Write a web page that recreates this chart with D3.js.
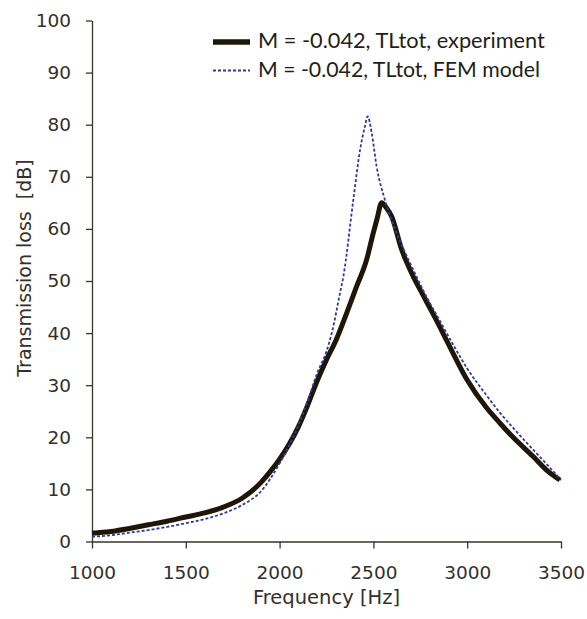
<!DOCTYPE html>
<html>
<head>
<meta charset="utf-8">
<script src="https://cdn.jsdelivr.net/npm/d3@7"></script>
<style>
  body { margin: 0; background: #fff; }
</style>
</head>
<body>
<svg width="587" height="619"></svg>
<script>
// experiment (thick black)
const freqExp = [1000, 1100, 1200, 1300, 1400, 1500, 1600, 1700, 1800, 1900, 1950, 2000, 2050, 2100, 2150, 2200, 2250, 2300, 2358, 2411, 2464, 2499, 2520, 2544, 2570, 2597, 2651, 2704, 2775, 2837, 2900, 3000, 3100, 3175, 3250, 3352, 3420, 3494];
const tlExp   = [1.6, 1.9, 2.5, 3.2, 3.9, 4.7, 5.5, 6.6, 8.3, 11.3, 13.4, 15.8, 18.6, 22.0, 26.2, 30.8, 34.9, 38.6, 43.9, 49.0, 54.1, 59.2, 62.0, 65.0, 64.0, 62.4, 56.0, 51.5, 46.6, 42.4, 37.9, 31.0, 25.8, 22.7, 19.8, 16.3, 13.8, 11.8];

// FEM model (blue dashed)
const freqFem = [1000, 1100, 1200, 1300, 1400, 1500, 1600, 1700, 1800, 1900, 2000, 2100, 2150, 2200, 2250, 2278, 2322, 2340, 2393, 2429, 2455, 2469, 2491, 2517, 2561, 2624, 2704, 2784, 2846, 2920, 3000, 3100, 3175, 3260, 3352, 3430, 3500];
const tlFem   = [0.9, 1.2, 1.7, 2.2, 2.8, 3.5, 4.3, 5.4, 7.0, 9.6, 15.0, 22.3, 27.0, 32.3, 36.5, 40.0, 47.7, 50.9, 65.6, 75.2, 79.7, 81.6, 78.4, 72.0, 65.6, 59.2, 52.8, 46.9, 42.9, 38.1, 33.2, 28.2, 24.7, 21.2, 17.6, 14.6, 11.8];

const xTicks = [1000, 1500, 2000, 2500, 3000, 3500];
const yTicks = [0, 10, 20, 30, 40, 50, 60, 70, 80, 90, 100];
const seriesNames = ["M = -0.042, TLtot, experiment", "M = -0.042, TLtot, FEM model"];

const svg = d3.select('svg');
const margin = { top: 20.5, right: 26, bottom: 77.5, left: 92 };
const width = +svg.attr('width');
const height = +svg.attr('height');
const innerWidth = width - margin.left - margin.right;
const innerHeight = height - margin.top - margin.bottom;

const axisColor = '#3b3428';
const textColor = '#333029';
const expColor = '#1f1608';
const femColor = '#2c3c99';

const xScale = d3.scaleLinear().domain([1000, 3500]).range([0, innerWidth]);
const yScale = d3.scaleLinear().domain([0, 100]).range([innerHeight, 0]);

const g = svg.append('g')
    .attr('transform', `translate(${margin.left},${margin.top})`);

// axes
const yAxis = g.append('g')
    .call(d3.axisLeft(yScale).tickValues(yTicks).tickSize(6).tickSizeOuter(0).tickPadding(15));
const xAxis = g.append('g')
    .attr('transform', `translate(0,${innerHeight})`)
    .call(d3.axisBottom(xScale).tickValues(xTicks).tickFormat(d3.format('d')).tickSize(7).tickSizeOuter(0).tickPadding(17));

[yAxis, xAxis].forEach(ax => {
    ax.select('.domain').attr('stroke', axisColor).attr('stroke-width', 1.3);
    ax.selectAll('.tick line').attr('stroke', axisColor).attr('stroke-width', 1.3);
    ax.selectAll('.tick text')
        .attr('fill', textColor)
        .style('font-family', '"DejaVu Sans", Verdana, sans-serif')
        .style('font-size', '18.5px');
});

// lines
const expData = freqExp.map((f, i) => ({ f, v: tlExp[i] }));
const femData = freqFem.map((f, i) => ({ f, v: tlFem[i] }));

const line = d3.line()
    .x(d => xScale(d.f))
    .y(d => yScale(d.v))
    .curve(d3.curveMonotoneX);

g.append('path')
    .datum(expData)
    .attr('fill', 'none')
    .attr('stroke', expColor)
    .attr('stroke-width', 5)
    .attr('stroke-linejoin', 'round')
    .attr('d', line);

g.append('path')
    .datum(femData)
    .attr('fill', 'none')
    .attr('stroke', femColor)
    .attr('stroke-width', 1.8)
    .attr('stroke-dasharray', '3,2')
    .attr('d', line);

// legend
const legend = svg.append('g');
const legendRows = [
    { name: seriesNames[0], y: 42, stroke: expColor, w: 5.5, dash: null, textW: 287 },
    { name: seriesNames[1], y: 70.5, stroke: femColor, w: 1.8, dash: '3,2', textW: 282 }
];
legendRows.forEach(r => {
    legend.append('line')
        .attr('x1', 213).attr('x2', 250)
        .attr('y1', r.y).attr('y2', r.y)
        .attr('stroke', r.stroke)
        .attr('stroke-width', r.w)
        .attr('stroke-dasharray', r.dash);
    const t = legend.append('text')
        .attr('x', 258)
        .attr('y', r.y + 6)
        .attr('fill', '#221e18')
        .style('font-family', 'Lato, "Open Sans", sans-serif')
        .style('font-size', '20px')
        .text(r.name);
    // scale the font so the label spans the same width as in the picture
    const len = t.node().getComputedTextLength();
    t.style('font-size', (20 * r.textW / len).toFixed(2) + 'px');
});

// axis titles
svg.append('text')
    .attr('x', margin.left + innerWidth / 2)
    .attr('y', 604)
    .attr('text-anchor', 'middle')
    .attr('fill', textColor)
    .style('font-family', '"DejaVu Sans", Verdana, sans-serif')
    .style('font-size', '19.5px')
    .text('Frequency [Hz]');

svg.append('text')
    .attr('transform', `translate(31,${268}) rotate(-90)`)
    .attr('text-anchor', 'middle')
    .attr('fill', textColor)
    .style('font-family', '"DejaVu Sans", Verdana, sans-serif')
    .style('font-size', '19px')
    .style('white-space', 'pre')
    .text('Transmission loss  [dB]');
</script>
</body>
</html>
